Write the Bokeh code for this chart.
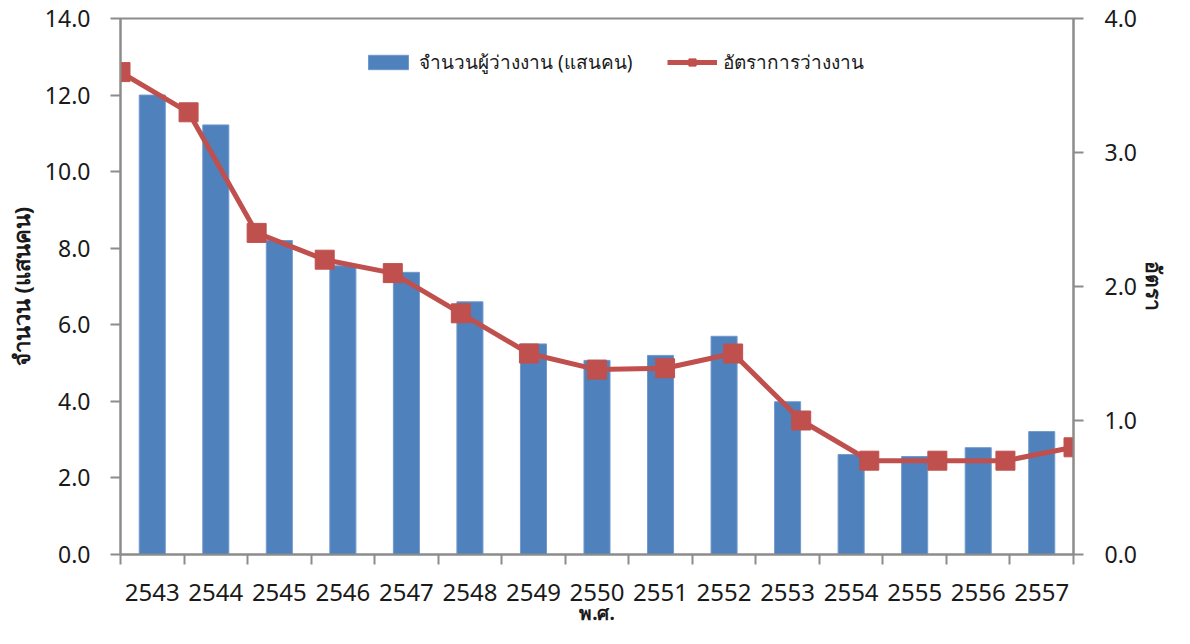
from bokeh.plotting import figure
from bokeh.models import (Range1d, LinearAxis, FixedTicker, Legend, LegendItem,
                          ColumnDataSource)
from bokeh.embed import file_html
from bokeh.resources import INLINE

years = ["2543", "2544", "2545", "2546", "2547", "2548", "2549", "2550",
         "2551", "2552", "2553", "2554", "2555", "2556", "2557"]
unemployed = [12.0, 11.22, 8.2, 7.54, 7.37, 6.6, 5.5, 5.07, 5.2, 5.7, 3.99, 2.61, 2.56, 2.79, 3.21]
rate = [3.6, 3.3, 2.4, 2.2, 2.1, 1.8, 1.5, 1.38, 1.39, 1.5, 1.0, 0.7, 0.7, 0.7, 0.8]
left_ticks = [0, 2, 4, 6, 8, 10, 12, 14]
right_ticks = [0, 1, 2, 3, 4]

bar_label = "จำนวนผู้ว่างงาน (แสนคน)"
line_label = "อัตราการว่างงาน"
x_title = "พ.ศ."
y_title = "จำนวน (แสนคน)"
y2_title = "อัตรา"

FONT = "Noto Sans"
AX = "#8c8c8c"
BLUE = "#4F81BD"
RED = "#C0504D"
TXT = "#1a1a1a"

n = len(years)
bar_x = [i + 0.5 for i in range(n)]
line_x = list(range(n))

p = figure(width=1174, height=628, output_backend="svg", toolbar_location=None,
           x_range=Range1d(0, n), y_range=Range1d(0, 14),
           min_border_left=120, min_border_right=101, min_border_top=18,
           min_border_bottom=70)
p.extra_x_ranges = {"pts": Range1d(0, n - 1)}
p.extra_y_ranges = {"rate": Range1d(0, 4)}
p.xgrid.visible = False
p.ygrid.visible = False
p.outline_line_color = AX
p.outline_line_width = 2
p.background_fill_color = "white"
p.border_fill_color = "white"

src_b = ColumnDataSource(dict(x=bar_x, top=unemployed))
src_l = ColumnDataSource(dict(x=line_x, y=rate))

bars = p.vbar(x="x", top="top", width=0.41, bottom=0, source=src_b,
              fill_color=BLUE, line_color="#7199CB", line_width=1)
ln = p.line(x="x", y="y", source=src_l, x_range_name="pts", y_range_name="rate",
            line_color=RED, line_width=5)
mk = p.scatter(x="x", y="y", source=src_l, x_range_name="pts", y_range_name="rate",
               marker="square", size=19, fill_color=RED, line_color=RED)

# x axis: labels at category centres, tick marks at boundaries (minor ticks)
xa = p.xaxis[0]
xa.ticker = FixedTicker(ticks=bar_x, minor_ticks=list(range(n + 1)))
xa.major_label_overrides = {bx: y for bx, y in zip(bar_x, years)}
xa.major_tick_line_color = None
xa.major_tick_out = 10
xa.major_tick_in = 0
xa.minor_tick_out = 10
xa.minor_tick_in = 0
xa.minor_tick_line_color = AX
xa.minor_tick_line_width = 2
xa.axis_line_color = AX
xa.axis_line_width = 2
xa.major_label_standoff = 19
xa.major_label_text_font = FONT
xa.major_label_text_font_size = "24px"
xa.major_label_text_color = TXT
xa.axis_label = x_title
xa.axis_label_text_font = FONT
xa.axis_label_text_font_style = "bold"
xa.axis_label_text_font_size = "19px"
xa.axis_label_text_color = TXT
xa.axis_label_standoff = -4

ya = p.yaxis[0]
ya.ticker = FixedTicker(ticks=left_ticks, minor_ticks=[])
ya.major_label_overrides = {v: f"{v:.1f}" for v in left_ticks}
ya.major_tick_out = 10
ya.major_tick_in = 0
ya.major_tick_line_color = AX
ya.major_tick_line_width = 2
ya.minor_tick_line_color = None
ya.axis_line_color = AX
ya.axis_line_width = 2
ya.major_label_standoff = 20
ya.major_label_text_font = FONT
ya.major_label_text_font_size = "23px"
ya.major_label_text_color = TXT
ya.axis_label = y_title
ya.axis_label_text_font = FONT
ya.axis_label_text_font_style = "bold"
ya.axis_label_text_font_size = "22px"
ya.axis_label_text_color = TXT
ya.axis_label_standoff = 6

ra = LinearAxis(y_range_name="rate")
ra.ticker = FixedTicker(ticks=right_ticks, minor_ticks=[])
ra.major_label_overrides = {v: f"{v:.1f}" for v in right_ticks}
ra.major_tick_out = 10
ra.major_tick_in = 0
ra.major_tick_line_color = AX
ra.major_tick_line_width = 2
ra.minor_tick_line_color = None
ra.axis_line_color = AX
ra.axis_line_width = 2
ra.major_label_standoff = 21
ra.major_label_text_font = FONT
ra.major_label_text_font_size = "23px"
ra.major_label_text_color = TXT
ra.axis_label = y2_title
ra.axis_label_text_font = FONT
ra.axis_label_text_font_style = "bold"
ra.axis_label_text_font_size = "21px"
ra.axis_label_text_color = TXT
ra.axis_label_standoff = 0
p.add_layout(ra, "right")

legend = Legend(items=[LegendItem(label=bar_label, renderers=[bars]),
                       LegendItem(label=line_label, renderers=[ln, mk])],
                orientation="horizontal", location=(243, 477),
                glyph_width=50, glyph_height=18, label_standoff=6, spacing=35,
                padding=0, margin=0, border_line_color=None,
                background_fill_alpha=0,
                label_text_font=FONT, label_text_font_size="19px",
                label_text_color=TXT)
p.add_layout(legend, "center")

open("out.html", "w").write(file_html(p, INLINE))
